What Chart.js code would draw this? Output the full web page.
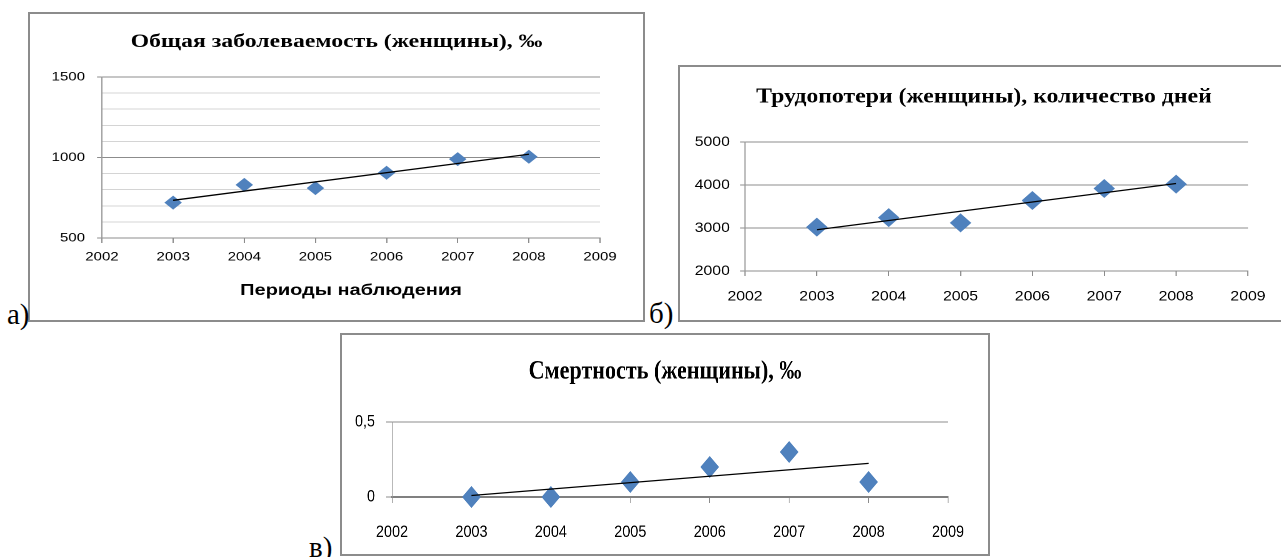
<!DOCTYPE html>
<html><head><meta charset="utf-8">
<script src="https://cdn.jsdelivr.net/npm/chart.js@4.4.0/dist/chart.umd.min.js"></script>
<style>
html,body{margin:0;padding:0;background:#fff;width:1281px;height:557px;overflow:hidden;}
.frame{position:absolute;border:2px solid #8c8c8c;box-sizing:border-box;}
.wrap{position:absolute;transform-origin:0 0;}
.wrap canvas{display:block;}
.lbl{position:absolute;font-family:'Liberation Serif','Times New Roman',serif;font-size:29px;line-height:1;color:#000;}
</style></head><body>
<div class="frame" style="left:28px;top:12px;width:617px;height:310px"></div>
<div class="frame" style="left:678px;top:65px;width:620px;height:257px"></div>
<div class="frame" style="left:340px;top:333px;width:650px;height:223px"></div>
<div class="wrap" id="wa"><canvas id="ca"></canvas></div>
<div class="wrap" id="wb"><canvas id="cb"></canvas></div>
<div class="wrap" id="wc"><canvas id="cc"></canvas></div>
<div class="lbl" style="left:7px;top:300px">а)</div>
<div class="lbl" style="left:649px;top:299px">б)</div>
<div class="lbl" style="left:309px;top:533px">в)</div>
<script>
// ---- data ----
const xRange = [2002, 2009];
const years = [2003, 2004, 2005, 2006, 2007, 2008];
const morbidity = [720, 830, 810, 905, 990, 1005];
const laborLoss = [3020, 3240, 3120, 3640, 3920, 4020];
const mortality = [0, 0, 0.1, 0.2, 0.3, 0.1];
const trendYears = [2003, 2008];
const morbidityTrend = [734, 1020];
const laborLossTrend = [2960, 4034];
const mortalityTrend = [0.01, 0.224];
const titleA = 'Общая заболеваемость (женщины), ‰';
const titleB = 'Трудопотери (женщины), количество дней';
const titleC = 'Смертность (женщины), ‰';
const axisTitleA = 'Периоды наблюдения';
const yRangeA = [500, 1500], yRangeB = [2000, 5000], yRangeC = [0, 0.5];

const SERIF = "'Liberation Serif','Times New Roman',serif";
const SANS = "'Liberation Sans',Arial,sans-serif";
const BLUE = '#4f81bd';

function place(id, left, top, refW, h, s) {
  const el = document.getElementById(id);
  el.style.left = left + 'px'; el.style.top = top + 'px';
  el.style.width = (refW / s) + 'px'; el.style.height = h + 'px';
  el.style.transform = 'scaleX(' + s + ')';
}

function build(canvasId, p) {
  const pts = years.map((y, i) => ({x: y, y: p.values[i]}));
  const tr = trendYears.map((y, i) => ({x: y, y: p.trend[i]}));
  return new Chart(document.getElementById(canvasId), {
    type: 'scatter',
    data: {datasets: [
      {type: 'line', data: tr, borderColor: '#000', borderWidth: 1.3, pointRadius: 0, fill: false, order: 0, clip: false},
      {type: 'scatter', data: pts, pointStyle: 'rectRot', pointRadius: p.r, pointHoverRadius: p.r,
       backgroundColor: BLUE, borderColor: BLUE, borderWidth: 0, order: 1, clip: false}
    ]},
    options: {
      responsive: true, maintainAspectRatio: false, animation: false, devicePixelRatio: 2,
      layout: {padding: 0},
      plugins: {
        legend: {display: false}, tooltip: {enabled: false},
        title: {display: true, text: p.title, color: '#000',
          font: {family: SERIF, size: p.titleSize, weight: 'bold', lineHeight: 1.2},
          padding: {top: p.titlePadTop, bottom: p.titlePadBottom}}
      },
      scales: {
        x: {type: 'linear', min: xRange[0], max: xRange[1],
          afterFit: sc => { sc.height = p.xHeight; },
          border: {display: true, color: p.axisColor, width: p.axisWidth},
          grid: {display: true, drawOnChartArea: false, drawTicks: true, tickLength: p.xTickLen, color: '#8c8c8c', tickColor: '#8c8c8c'},
          ticks: {stepSize: 1, autoSkip: false, maxRotation: 0, color: '#000', padding: p.xTickPad,
            font: {family: SANS, size: p.tickSize}, callback: v => String(v)},
          title: p.axisTitle ? {display: true, text: p.axisTitle, color: '#000',
            font: {family: SANS, size: 16, weight: 'bold', lineHeight: 1.2}, padding: {top: 0, bottom: p.axisTitlePad}} : {display: false}
        },
        y: {type: 'linear', position: 'left', min: p.yRange[0], max: p.yRange[1],
          afterFit: sc => { sc.width = p.plotLeft; },
          border: {display: true, color: '#9a9a9a', width: 1},
          grid: {display: true, drawTicks: true, tickLength: p.yTickLen, lineWidth: 1,
            color: c => (p.isMajor(c.tick.value) ? '#8c8c8c' : '#d4d4d4'),
            tickColor: c => (p.isMajor(c.tick.value) ? '#8c8c8c' : 'rgba(0,0,0,0)')},
          ticks: {stepSize: p.yStep, autoSkip: false, color: '#000', padding: p.yTickPad,
            font: {family: SANS, size: p.tickSize},
            callback: v => (p.isMajor(v) ? String(v).replace('.', ',') : '')}
        },
        // empty right-hand spacer so the plot sits where it does in the reference
        spacer: {type: 'linear', position: 'right', display: true, min: 0, max: 1,
          afterFit: sc => { sc.width = p.plotRightGap; },
          border: {display: false}, grid: {display: false, drawOnChartArea: false, drawTicks: false},
          ticks: {display: false}}
      }
    }
  });
}

const sA = 1.25, sB = 1.13, sC = 0.85;
place('wa', 30, 14, 613, 306, sA);
place('wb', 680, 67, 608, 253, sB);
place('wc', 342, 335, 646, 218, sC);

build('ca', {values: morbidity, trend: morbidityTrend, yRange: yRangeA, yStep: 100,
  isMajor: v => Math.abs(v % 500) < 1e-6, title: titleA, titleSize: 19, titlePadTop: 16.6, titlePadBottom: 23.6,
  axisTitle: axisTitleA, axisTitlePad: 20, xHeight: 82, tickSize: 12, xTickLen: 5, xTickPad: 7,
  plotLeft: 72 / sA, plotRightGap: 43 / sA, yTickLen: 4, yTickPad: 9.6, r: 7, axisColor: '#8c8c8c', axisWidth: 1});

build('cb', {values: laborLoss, trend: laborLossTrend, yRange: yRangeB, yStep: 1000,
  isMajor: v => true, title: titleB, titleSize: 21, titlePadTop: 17.4, titlePadBottom: 32.4,
  axisTitle: null, xHeight: 49, tickSize: 14, xTickLen: 5, xTickPad: 12,
  plotLeft: 65 / sB, plotRightGap: 40 / sB, yTickLen: 4.4, yTickPad: 9, r: 9.5, axisColor: '#8c8c8c', axisWidth: 1});

build('cc', {values: mortality, trend: mortalityTrend, yRange: yRangeC, yStep: 0.5,
  isMajor: v => true, title: titleC, titleSize: 26, titlePadTop: 21.4, titlePadBottom: 34.4,
  axisTitle: null, xHeight: 56, tickSize: 17, xTickLen: 6, xTickPad: 19,
  plotLeft: 50 / sC, plotRightGap: 40 / sC, yTickLen: 7, yTickPad: 13, r: 11, axisColor: '#808080', axisWidth: 2});
</script>
</body></html>
